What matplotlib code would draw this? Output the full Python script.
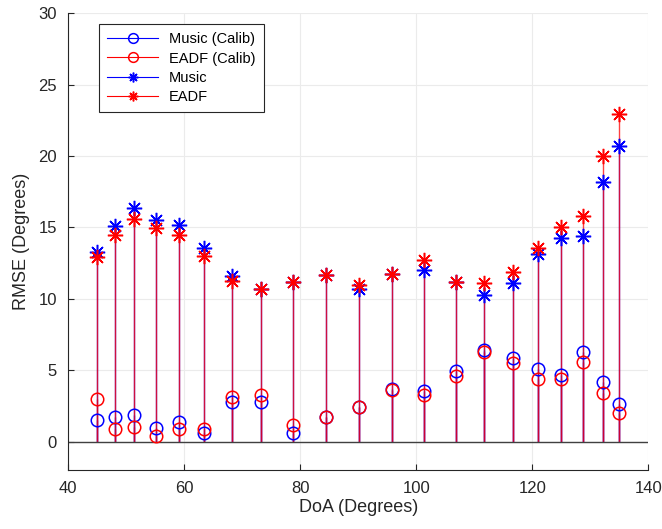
import matplotlib
matplotlib.use("Agg")
import matplotlib.pyplot as plt
from matplotlib.lines import Line2D
from matplotlib.legend_handler import HandlerLine2D

plt.rcParams["font.family"] = ["Liberation Sans", "DejaVu Sans"]

# DoA test angles (degrees)
doa = [45.0, 48.1, 51.4, 55.2, 59.2, 63.5, 68.3, 73.3, 78.7, 84.4, 90.1,
       95.9, 101.4, 106.8, 111.7, 116.7, 121.0, 125.0, 128.8, 132.1, 135.0]

# RMSE values (degrees)
music_calib = [1.52, 1.70, 1.87, 0.96, 1.35, 0.58, 2.78, 2.78, 0.58, 1.76, 2.43,
               3.71, 3.57, 4.93, 6.42, 5.84, 5.07, 4.70, 6.26, 4.16, 2.64]
eadf_calib = [2.97, 0.86, 1.05, 0.42, 0.86, 0.91, 3.10, 3.25, 1.17, 1.74, 2.43,
              3.62, 3.25, 4.60, 6.26, 5.51, 4.41, 4.41, 5.61, 3.43, 1.98]
music = [13.30, 15.07, 16.37, 15.49, 15.20, 13.57, 11.63, 10.70, 11.21, 11.68, 10.68,
         11.77, 12.05, 11.17, 10.30, 11.14, 13.15, 14.23, 14.41, 18.15, 20.69]
eadf = [12.95, 14.44, 15.60, 14.98, 14.44, 13.03, 11.28, 10.70, 11.21, 11.68, 10.98,
        11.77, 12.75, 11.17, 11.14, 11.87, 13.55, 15.00, 15.77, 19.97, 22.96]

labels = ["Music (Calib)", "EADF (Calib)", "Music", "EADF"]

STAR = (8, 2, 0)


class EndMarkerHandler(HandlerLine2D):
    """Legend entry with the marker at the right end, like MATLAB stem."""

    def get_xdata(self, legend, xdescent, ydescent, width, height, fontsize):
        xdata = [-xdescent, -xdescent + width]
        return xdata, [-xdescent + width - 3]


fig = plt.figure(figsize=(6.62, 5.29), dpi=100)
ax = fig.add_axes([0.1027, 0.111, 0.8767, 0.8643])

series = [
    (music_calib, "blue", "o"),
    (eadf_calib, "red", "o"),
    (music, "blue", STAR),
    (eadf, "red", STAR),
]

handles = []
for (vals, color, marker), label in zip(series, labels):
    ax.vlines(doa, 0, vals, colors=color, linewidth=1.0, alpha=0.75, zorder=2)
    if marker == "o":
        ax.plot(doa, vals, linestyle="none", marker="o", markersize=9,
                markerfacecolor="none", markeredgecolor=color, markeredgewidth=1.1, zorder=3)
    else:
        ax.plot(doa, vals, linestyle="none", marker=marker, markersize=11,
                color=color, markeredgewidth=1.1, zorder=3)
    h = Line2D([], [], color=color, linewidth=0.8, marker=marker,
               markersize=7, markerfacecolor="none" if marker == "o" else color,
               markeredgecolor=color, markeredgewidth=1.1)
    handles.append(h)

ax.axhline(0, color="#404040", linewidth=1.0, zorder=2.5)

ax.set_xlim(40, 140)
ax.set_ylim(-2, 30)
ax.set_xticks(range(40, 141, 20))
ax.set_yticks(range(0, 31, 5))
ax.grid(True, color="#ebebeb", linewidth=0.8)
ax.set_axisbelow(True)

for side in ["top", "right"]:
    ax.spines[side].set_visible(False)
for side in ["left", "bottom"]:
    ax.spines[side].set_color("#262626")
    ax.spines[side].set_linewidth(0.8)

ax.tick_params(direction="in", length=4, colors="#262626", labelsize=12, pad=8)
ax.set_xlabel("DoA (Degrees)", fontsize=13, color="#262626", labelpad=2)
ax.set_ylabel("RMSE (Degrees)", fontsize=13, color="#262626", labelpad=6)

leg = ax.legend(handles, labels, loc="upper left", bbox_to_anchor=(0.046, 0.985),
                fontsize=10.5, fancybox=False, edgecolor="#262626", framealpha=1,
                handlelength=3.5, handletextpad=0.75, borderpad=0.55, labelspacing=0.36,
                borderaxespad=0.3,
                handler_map={Line2D: EndMarkerHandler(numpoints=1)})
leg.get_frame().set_linewidth(0.8)

fig.savefig("out.png", dpi=100)
